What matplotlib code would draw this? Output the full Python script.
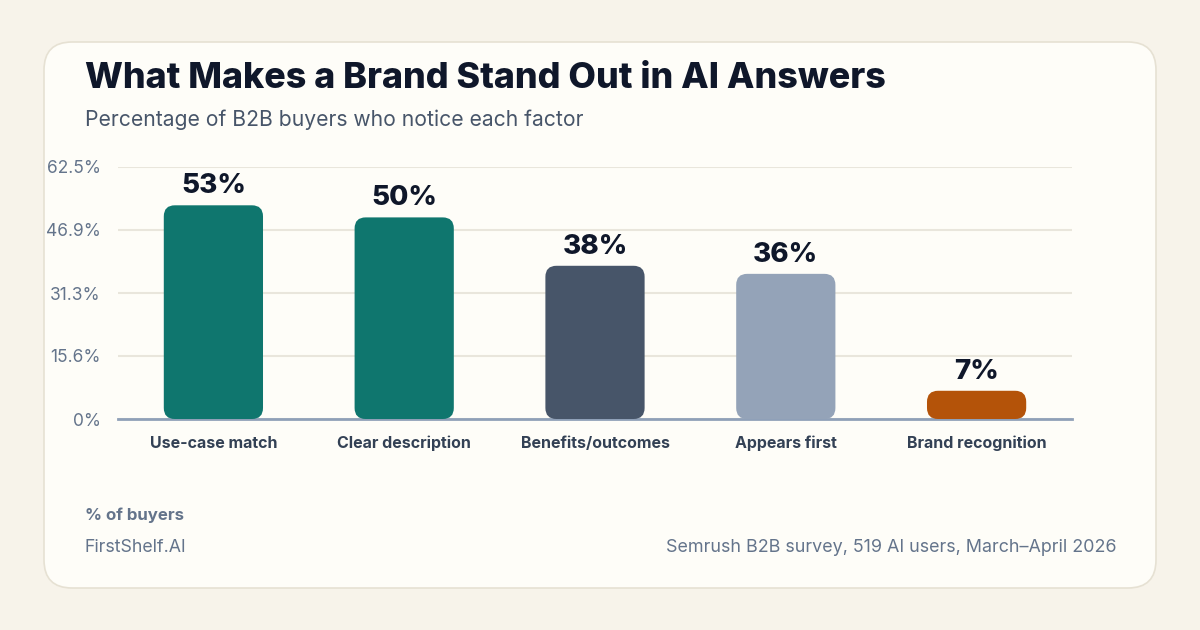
import matplotlib
matplotlib.use("Agg")
import matplotlib.pyplot as plt
from matplotlib.patches import FancyBboxPatch

categories = ["Use-case match", "Clear description", "Benefits/outcomes", "Appears first", "Brand recognition"]
values = [53, 50, 38, 36, 7]
value_labels = ["53%", "50%", "38%", "36%", "7%"]
bar_colors = ["#0f766e", "#0f766e", "#475569", "#94a3b8", "#b45309"]
ytick_values = [0, 15.625, 31.25, 46.875, 62.5]
ytick_labels = ["0%", "15.6%", "31.3%", "46.9%", "62.5%"]

W, H = 1200, 630
plt.rcParams['font.family'] = ['Inter', 'DejaVu Sans']
fig = plt.figure(figsize=(W / 100, H / 100), dpi=100)
fig.patch.set_facecolor("#f7f3ea")

# background layer in pixel coordinates
bg = fig.add_axes([0, 0, 1, 1])
bg.set_xlim(0, W)
bg.set_ylim(H, 0)
bg.axis("off")
card = FancyBboxPatch((44, 42), 1112, 546, boxstyle="round,pad=0,rounding_size=28",
                      facecolor="#fefdf8", edgecolor="#e6e1d3", linewidth=1.2)
bg.add_patch(card)

bg.text(85, 79, "What Makes a Brand Stand Out in AI Answers", fontsize=25.8, fontweight="heavy",
        color="#0f172a", va="center", ha="left")
bg.text(85, 120, "Percentage of B2B buyers who notice each factor", fontsize=15.2,
        color="#475569", va="center", ha="left")
bg.text(85, 515, "% of buyers", fontsize=12.1, fontweight="bold", color="#64748b", va="center", ha="left")
bg.text(85, 547, "FirstShelf.AI", fontsize=12.8, color="#64748b", va="center", ha="left")
bg.text(1116, 547, "Semrush B2B survey, 519 AI users, March\u2013April 2026", fontsize=12.9,
        color="#64748b", va="center", ha="right")

# chart axes
left, right, top, base = 118, 1072, 167, 419
ax = fig.add_axes([left / W, (H - base) / H, (right - left) / W, (base - top) / H])
ax.set_facecolor("none")
ax.set_xlim(-0.5, len(categories) - 0.5)
ax.set_ylim(0, 62.5)
for s in ["top", "right", "left"]:
    ax.spines[s].set_visible(False)
ax.spines["bottom"].set_color("#8fa0b8")
ax.spines["bottom"].set_linewidth(2)
ax.set_yticks(ytick_values)
ax.set_yticklabels(ytick_labels)
ax.tick_params(axis="y", length=0, pad=12.5, labelsize=12.5, labelcolor="#64748b")
ax.set_xticks(range(len(categories)))
ax.set_xticklabels(categories, fontweight="bold")
ax.tick_params(axis="x", length=0, pad=12, labelsize=11.5, labelcolor="#334155")
ax.grid(axis="y", color="#e9e6dc", linewidth=1.5)
ax.set_axisbelow(True)

px_per_x = (right - left) / len(categories)
px_per_y = (base - top) / 62.5
radius_px = 11
bw = 0.52
for i, (v, c, lab) in enumerate(zip(values, bar_colors, value_labels)):
    rs = radius_px / px_per_x
    aspect = (radius_px / px_per_y) / rs
    p = FancyBboxPatch((i - bw / 2, 0), bw, v,
                       boxstyle=f"round,pad=0,rounding_size={rs}",
                       mutation_aspect=aspect, facecolor=c, edgecolor="none", zorder=3,
                       clip_on=False)
    ax.add_patch(p)
    ax.annotate(lab, (i, v), xytext=(0, 4.5), textcoords="offset points", ha="center", va="bottom",
                fontsize=20, fontweight="heavy", color="#0f172a")

fig.savefig("out.png", dpi=100, facecolor=fig.get_facecolor())
